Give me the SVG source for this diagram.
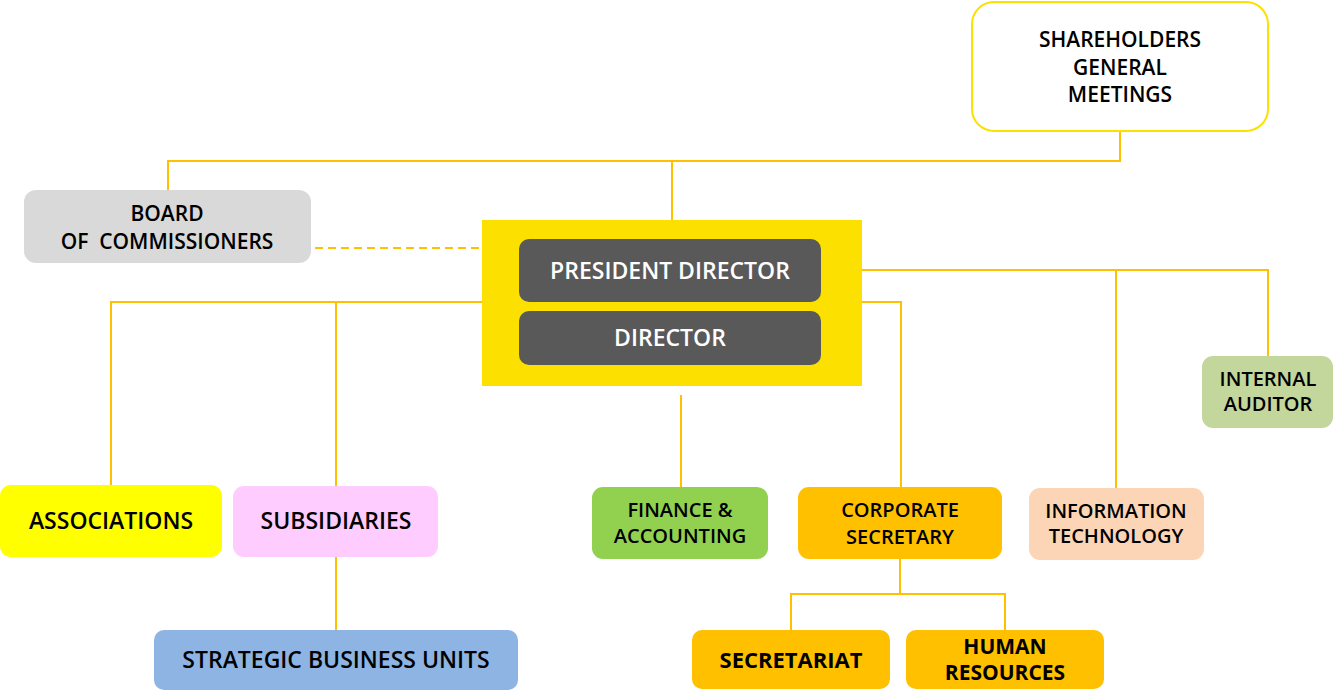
<svg xmlns="http://www.w3.org/2000/svg" width="1333" height="695" viewBox="0 0 1333 695">
<style>
text{font-family:"Open Sans","Noto Sans","DejaVu Sans",sans-serif;text-anchor:middle;fill:#000;font-size:20px;font-weight:600}
.t{font-size:21px}
.m{font-size:23px}
.w{fill:#fff;font-size:23px}
.b{font-weight:bold;font-size:22px}
.h{font-weight:bold;font-size:21px}
.c{fill:none;stroke:#FFC000;stroke-width:2}
</style>
<g id="connectors">
<polyline class="c" points="1120,131 1120,161 168,161 168,190"/>
<line class="c" x1="672" y1="161" x2="672" y2="220"/>
<line class="c" x1="315" y1="248" x2="481" y2="248" stroke-dasharray="8,5" stroke-width="2.5"/>
<polyline class="c" points="111,485 111,302 482,302"/>
<line class="c" x1="336" y1="302" x2="336" y2="486"/>
<polyline class="c" points="821,270 1268,270 1268,356"/>
<line class="c" x1="1116" y1="270" x2="1116" y2="488"/>
<polyline class="c" points="862,302 901,302 901,487"/>
<line class="c" x1="681" y1="395" x2="681" y2="487"/>
<line class="c" x1="336" y1="557" x2="336" y2="630"/>
<polyline class="c" points="791,630 791,594 1005,594 1005,630"/>
<line class="c" x1="900" y1="559" x2="900" y2="594"/>
</g>
<g id="shareholders">
<rect x="972" y="2" width="296" height="129" rx="22" fill="#fff" stroke="#FBE000" stroke-width="2"/>
<text class="t" x="1120" y="47">SHAREHOLDERS</text>
<text class="t" x="1120" y="75">GENERAL</text>
<text class="t" x="1120" y="102">MEETINGS</text>
</g>
<g id="board">
<rect x="24" y="190" width="287" height="73" rx="12" fill="#D9D9D9"/>
<text class="t" x="167" y="221">BOARD</text>
<text class="t" x="167" y="249" xml:space="preserve">OF  COMMISSIONERS</text>
</g>
<g id="directors">
<rect x="482" y="220" width="380" height="166" fill="#FBE000"/>
</g>
<g id="president-director">
<rect x="519" y="239" width="302" height="63" rx="10" fill="#595959"/>
<text class="w" x="670" y="279">PRESIDENT DIRECTOR</text>
</g>
<g id="director">
<rect x="519" y="311" width="302" height="54" rx="10" fill="#595959"/>
<text class="w" x="670" y="346">DIRECTOR</text>
</g>
<g id="associations">
<rect x="0" y="485" width="222" height="72" rx="11" fill="#FFFF00"/>
<text class="m" x="111" y="529">ASSOCIATIONS</text>
</g>
<g id="subsidiaries">
<rect x="233" y="486" width="205" height="71" rx="11" fill="#FFCCFF"/>
<text class="m" x="336" y="529">SUBSIDIARIES</text>
</g>
<g id="sbu">
<rect x="154" y="630" width="364" height="60" rx="10" fill="#8EB4E3"/>
<text class="m" x="336" y="668">STRATEGIC BUSINESS UNITS</text>
</g>
<g id="finance">
<rect x="592" y="487" width="176" height="72" rx="11" fill="#92D050"/>
<text x="680" y="517">FINANCE &amp;</text>
<text x="680" y="543">ACCOUNTING</text>
</g>
<g id="corporate-secretary">
<rect x="798" y="487" width="204" height="72" rx="11" fill="#FFC000"/>
<text x="900" y="517">CORPORATE</text>
<text x="900" y="544">SECRETARY</text>
</g>
<g id="it">
<rect x="1029" y="488" width="175" height="72" rx="11" fill="#FBD5B5"/>
<text x="1116" y="518">INFORMATION</text>
<text x="1116" y="543">TECHNOLOGY</text>
</g>
<g id="internal-auditor">
<rect x="1202" y="356" width="131" height="72" rx="11" fill="#C3D69B"/>
<text x="1268" y="386">INTERNAL</text>
<text x="1268" y="411">AUDITOR</text>
</g>
<g id="secretariat">
<rect x="692" y="630" width="198" height="59" rx="10" fill="#FFC000"/>
<text class="b" x="791" y="668">SECRETARIAT</text>
</g>
<g id="human-resources">
<rect x="906" y="630" width="198" height="59" rx="10" fill="#FFC000"/>
<text class="h" x="1005" y="654">HUMAN</text>
<text class="h" x="1005" y="680">RESOURCES</text>
</g>
</svg>
